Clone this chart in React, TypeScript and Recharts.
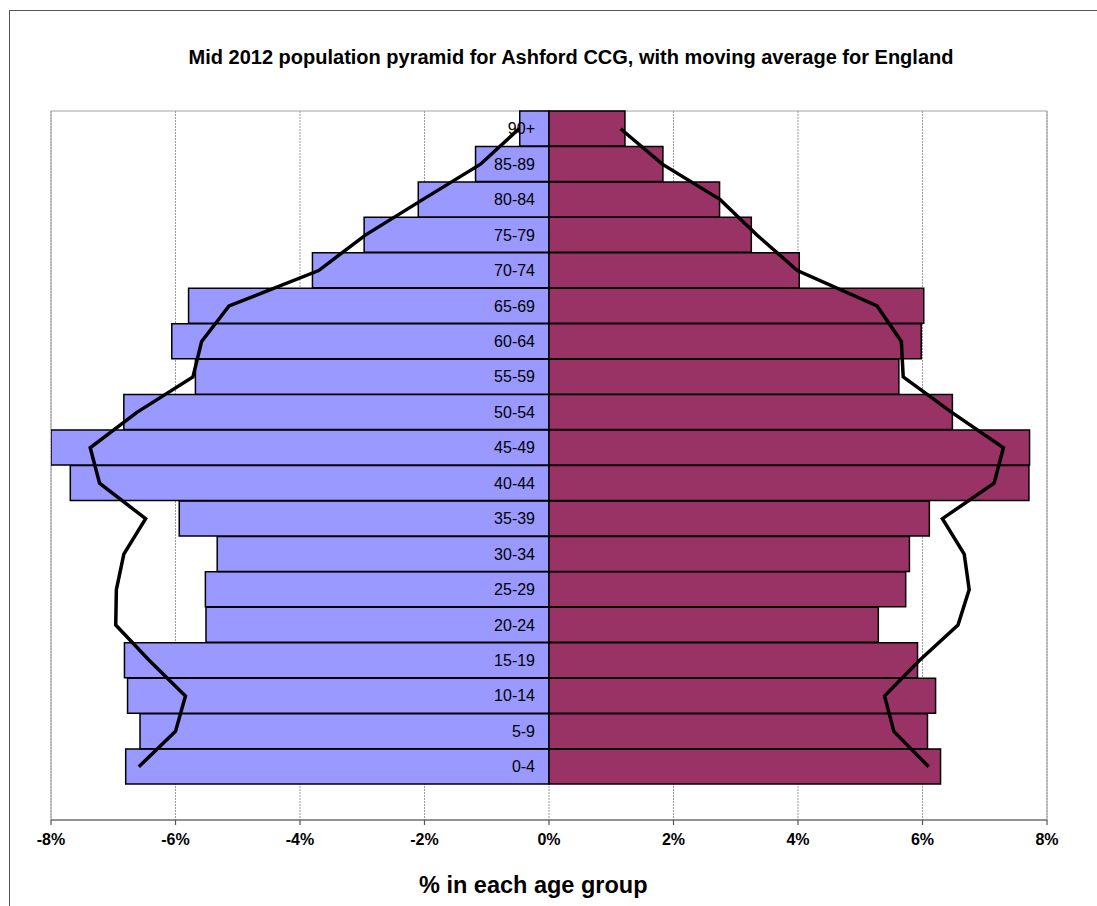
import React from 'react';
import {
  ComposedChart,
  Bar,
  Line,
  XAxis,
  YAxis,
  CartesianGrid,
  ReferenceArea,
  LabelList,
} from 'recharts';

// Age groups, bottom to top
const ageGroups = [
  '0-4', '5-9', '10-14', '15-19', '20-24', '25-29', '30-34', '35-39', '40-44',
  '45-49', '50-54', '55-59', '60-64', '65-69', '70-74', '75-79', '80-84', '85-89', '90+',
];

// Ashford CCG males (% of population, shown as negative)
const maleValues = [
  -6.8, -6.57, -6.77, -6.82, -5.51, -5.52, -5.33, -5.94, -7.69,
  -8.0, -6.83, -5.68, -6.06, -5.79, -3.8, -2.97, -2.1, -1.18, -0.47,
];

// Ashford CCG females (%)
const femaleValues = [
  6.29, 6.08, 6.21, 5.92, 5.29, 5.73, 5.79, 6.11, 7.71,
  7.72, 6.48, 5.62, 5.98, 6.02, 4.02, 3.25, 2.74, 1.83, 1.22,
];

// England moving average, males
const maleEngland = [
  -6.59, -6.0, -5.84, -6.42, -6.96, -6.95, -6.83, -6.48, -7.22,
  -7.37, -6.62, -5.72, -5.58, -5.14, -3.7, -2.95, -2.03, -1.1, -0.48,
];

// England moving average, females
const femaleEngland = [
  6.1, 5.54, 5.39, 5.95, 6.57, 6.75, 6.67, 6.32, 7.15,
  7.3, 6.47, 5.69, 5.66, 5.27, 3.99, 3.34, 2.75, 1.82, 1.15,
];

const xTicks = [-8, -6, -4, -2, 0, 2, 4, 6, 8];

const chartTitle = 'Mid 2012 population pyramid for Ashford CCG, with moving average for England';
const xAxisTitle = '% in each age group';

// empty padding row at the bottom, then age groups
const tableData = [
  { age: '' },
  ...ageGroups.map((age, i) => ({
    age,
    male: maleValues[i],
    female: femaleValues[i],
    maleAvg: maleEngland[i],
    femaleAvg: femaleEngland[i],
  })),
];

const FONT = '"Liberation Sans", Arial, sans-serif';

const AgeLabel = (props: any) => {
  const vb = props.viewBox || props;
  const x = vb.x ?? props.x;
  const y = vb.y ?? props.y;
  const h = vb.height ?? props.height;
  if (x == null || y == null || !props.value) return null;
  return (
    <text
      x={x - 14}
      y={y + h / 2}
      dy="0.36em"
      textAnchor="end"
      fontFamily={FONT}
      fontSize={16}
      fill="#000"
    >
      {props.value}
    </text>
  );
};

export default function App() {
  return (
    <div
      style={{
        position: 'absolute',
        left: 0,
        top: 0,
        width: 1097,
        height: 906,
        overflow: 'hidden',
        background: '#fff',
        fontFamily: FONT,
      }}
    >
      <div
        style={{
          position: 'absolute',
          left: 9,
          top: 10,
          width: 1100,
          height: 900,
          borderLeft: '1px solid #555',
          borderTop: '1px solid #555',
        }}
      />
      <div
        style={{
          position: 'absolute',
          left: 0,
          top: 47,
          width: 1142,
          textAlign: 'center',
          fontSize: 20,
          lineHeight: '20px',
          fontWeight: 'bold',
          whiteSpace: 'nowrap',
          color: '#000',
        }}
      >
        {chartTitle}
      </div>
      <div style={{ position: 'absolute', left: 0, top: 0 }}>
        <ComposedChart
          width={1097}
          height={906}
          data={tableData}
          layout="vertical"
          stackOffset="sign"
          barCategoryGap={0}
          barGap={0}
          margin={{ top: 111, right: 50, bottom: 56, left: 51 }}
        >
          <CartesianGrid
            horizontal={false}
            vertical={true}
            stroke="#9a9a9a"
            strokeDasharray="2 1"
          />
          <ReferenceArea x1={-8} x2={8} fill="none" stroke="#a0a0a0" strokeWidth={1} ifOverflow="visible" />
          <XAxis
            type="number"
            domain={[-8, 8]}
            ticks={xTicks}
            allowDataOverflow
            tickFormatter={(v: number) => `${v}%`}
            height={30}
            tickSize={5}
            tickMargin={9}
            axisLine={{ stroke: '#555', strokeWidth: 1.2 }}
            tickLine={{ stroke: '#555', strokeWidth: 1.2 }}
            tick={{ fontSize: 16, fontWeight: 'bold', fill: '#000', fontFamily: FONT }}
          />
          <YAxis type="category" dataKey="age" reversed hide />
          <Bar dataKey="male" stackId="a" fill="#9999FF" stroke="#000" strokeWidth={1.5} isAnimationActive={false} />
          <Bar dataKey="female" stackId="a" fill="#993366" stroke="#000" strokeWidth={1.5} isAnimationActive={false}>
            <LabelList dataKey="age" content={AgeLabel} />
          </Bar>
          <Line
            dataKey="maleAvg"
            type="linear"
            stroke="#000"
            strokeWidth={3.5}
            dot={false}
            activeDot={false}
            isAnimationActive={false}
          />
          <Line
            dataKey="femaleAvg"
            type="linear"
            stroke="#000"
            strokeWidth={3.5}
            dot={false}
            activeDot={false}
            isAnimationActive={false}
          />
        </ComposedChart>
      </div>
      <div
        style={{
          position: 'absolute',
          left: 419,
          top: 873,
          fontSize: 23.5,
          lineHeight: '24px',
          fontWeight: 'bold',
          whiteSpace: 'nowrap',
          color: '#000',
        }}
      >
        {xAxisTitle}
      </div>
    </div>
  );
}
